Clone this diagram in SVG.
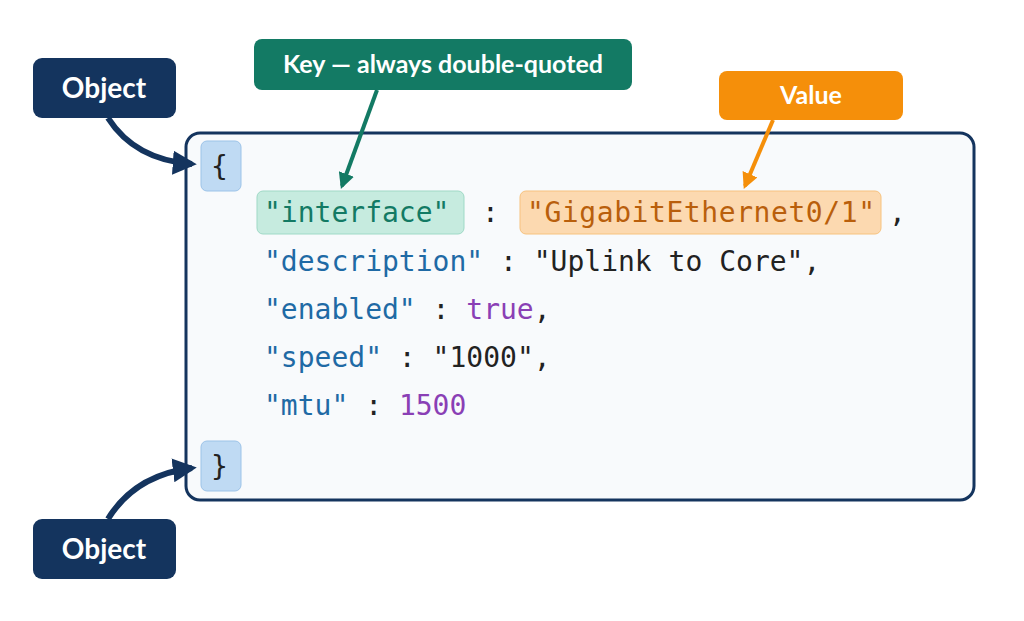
<svg xmlns="http://www.w3.org/2000/svg" width="1024" height="621" viewBox="0 0 1024 621">
<defs>
<style>
.code{font-family:"DejaVu Sans Mono",monospace;font-size:28px}
.lbl{font-family:"Lato","Liberation Sans",sans-serif;font-weight:bold;fill:#fff;text-anchor:middle}
.k{fill:#1f6aa5}.s{fill:#222}.p{fill:#8a3fb5}.c{fill:#222}
</style>
<marker id="an" viewBox="0 0 10 10" refX="8" refY="5" markerWidth="4" markerHeight="4" orient="auto"><path d="M0,0L10,5L0,10z" fill="#14345e"/></marker>
<marker id="ag" viewBox="0 0 10 10" refX="8" refY="5" markerWidth="4" markerHeight="4" orient="auto"><path d="M0,0L10,5L0,10z" fill="#137a64"/></marker>
<marker id="ao" viewBox="0 0 10 10" refX="8" refY="5" markerWidth="4" markerHeight="4" orient="auto"><path d="M0,0L10,5L0,10z" fill="#f58f0a"/></marker>
</defs>
<rect width="1024" height="621" fill="#fff"/>
<g id="panel"><rect x="186" y="133" width="788" height="367" rx="14" fill="#f8fafc" stroke="#14345e" stroke-width="3"/></g>
<g id="code">
<rect x="201" y="141" width="40" height="50" rx="6" fill="#bfdaf3" stroke="#9cc3e8"/>
<text x="211" y="176" class="code c">{</text>
<rect x="201" y="441" width="40" height="50" rx="6" fill="#bfdaf3" stroke="#9cc3e8"/>
<text x="211" y="476" class="code c">}</text>
<rect x="257" y="191" width="207" height="43" rx="6" fill="#c6ebdf" stroke="#9fd9c6"/>
<text x="264" y="222" class="code" fill="#137a64">"interface"</text>
<text x="482" y="222" class="code c">:</text>
<rect x="520" y="191" width="361" height="43" rx="6" fill="#fcd9b0" stroke="#f7c27e"/>
<text x="527" y="222" class="code" fill="#b95f0c" textLength="348">"GigabitEthernet0/1"</text>
<text x="889" y="222" class="code c">,</text>
<text x="264" y="271" class="code"><tspan class="k">"description"</tspan><tspan class="c"> : "Uplink to Core",</tspan></text>
<text x="264" y="319" class="code"><tspan class="k">"enabled"</tspan><tspan class="c"> : </tspan><tspan class="p">true</tspan><tspan class="c">,</tspan></text>
<text x="264" y="367" class="code"><tspan class="k">"speed"</tspan><tspan class="c"> : "1000",</tspan></text>
<text x="264" y="415" class="code"><tspan class="k">"mtu"</tspan><tspan class="c"> : </tspan><tspan class="p">1500</tspan></text>
</g>
<g id="object-top"><rect x="33" y="58" width="143" height="60" rx="9" fill="#14345e"/><text x="104" y="98" class="lbl" font-size="28">Object</text></g>
<g id="object-bottom"><rect x="33" y="519" width="143" height="60" rx="9" fill="#14345e"/><text x="104" y="559" class="lbl" font-size="28">Object</text></g>
<g id="key-label"><rect x="254" y="39" width="378" height="51" rx="8" fill="#137a64"/><text x="443" y="73" class="lbl" font-size="25">Key — always double-quoted</text></g>
<g id="value-label"><rect x="719" y="71" width="184" height="49" rx="8" fill="#f58f0a"/><text x="811" y="104" class="lbl" font-size="25">Value</text></g>
<g id="connectors" fill="none" stroke-width="6">
<path d="M108,118 Q135,160 192,164" stroke="#14345e" marker-end="url(#an)"/>
<path d="M108,519 Q135,475 192,468" stroke="#14345e" marker-end="url(#an)"/>
<path d="M377,90 L342,186" stroke="#137a64" stroke-width="4" marker-end="url(#ag)"/>
<path d="M773,120 L745,186" stroke="#f58f0a" stroke-width="4" marker-end="url(#ao)"/>
</g>
</svg>
